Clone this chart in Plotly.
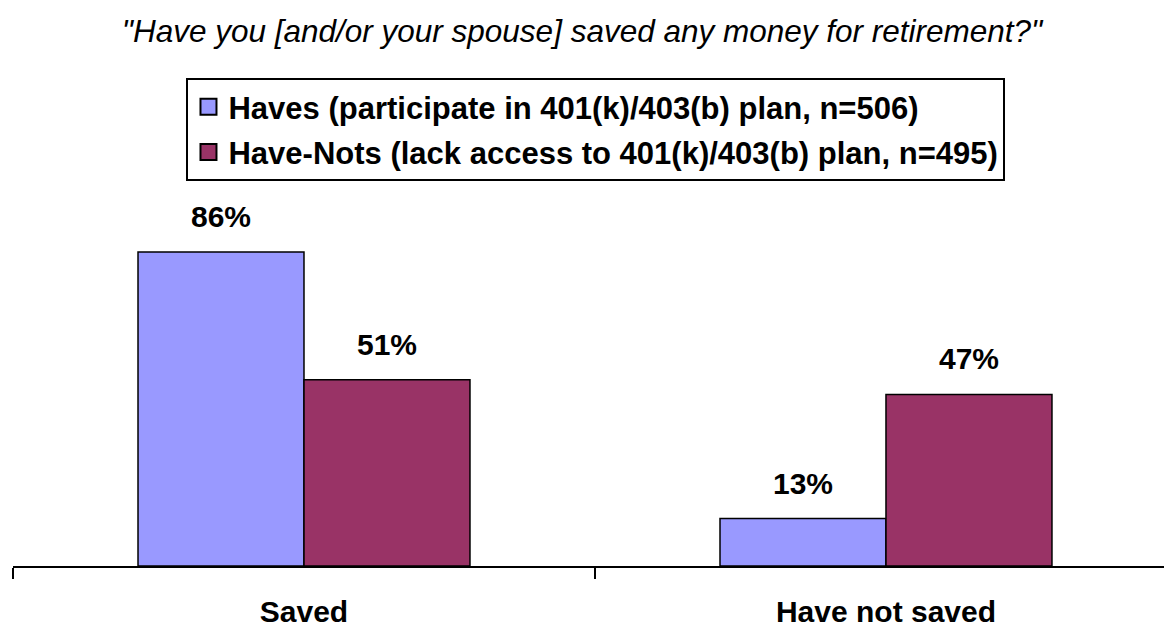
import plotly.graph_objects as go

# Survey responses, percent of each group
categories = ["Saved", "Have not saved"]
haves = [86, 13]
have_nots = [51, 47]
series_names = [
    "Haves (participate in 401(k)/403(b) plan, n=506)",
    "Have-Nots (lack access to 401(k)/403(b) plan, n=495)",
]
question = '"Have you [and/or your spouse] saved any money for retirement?"'

FONT = "Arial, Liberation Sans, Helvetica, sans-serif"
colors = ["#9999FF", "#993366"]

fig = go.Figure()
for i, (name, vals, col) in enumerate(zip(series_names, [haves, have_nots], colors)):
    fig.add_trace(go.Bar(
        x=categories, y=vals, name=name, legendgroup=f"g{i}", showlegend=False,
        marker=dict(color=col, line=dict(color="black", width=1.5)),
        hoverinfo="skip",
    ))
    # legend entry with a larger square swatch
    fig.add_trace(go.Scatter(
        x=[None], y=[None], mode="markers", name=name, legendgroup=f"g{i}",
        marker=dict(symbol="square", size=20, color=col, line=dict(color="black", width=2)),
        hoverinfo="skip",
    ))

# Value labels above each bar
half_bar_px = 83
for shift, vals in zip([-half_bar_px, half_bar_px], [haves, have_nots]):
    for cat, v in zip(categories, vals):
        fig.add_annotation(
            x=cat, y=v, text=f"{v}%", showarrow=False,
            xshift=shift, yshift=17, yanchor="bottom",
            font=dict(family=FONT, size=30, color="black", weight="bold"),
        )

fig.update_layout(
    width=1164, height=627,
    margin=dict(l=13, r=0, t=201, b=61),
    paper_bgcolor="white", plot_bgcolor="white",
    barmode="group", bargap=0.4296, bargroupgap=0,
    title=dict(
        text=question, x=0.5, xanchor="center", y=1 - 31 / 627, yanchor="middle",
        font=dict(family=FONT, size=31.5, color="black", style="italic"),
    ),
    legend=dict(
        x=0.5065, xanchor="center", y=1.337, yanchor="top",
        bordercolor="black", borderwidth=2, bgcolor="white",
        font=dict(family=FONT, size=31, color="black", weight="bold"),
        traceorder="grouped", tracegroupgap=2,
    ),
    showlegend=True,
)
fig.update_xaxes(
    type="category", range=[-0.5, 1.4777],
    showline=True, linecolor="black", linewidth=2,
    ticks="outside", tickson="boundaries", ticklen=11, tickwidth=2, tickcolor="black",
    ticklabelstandoff=18,
    tickfont=dict(family=FONT, size=30, color="black", weight="bold"),
    showgrid=False, zeroline=False,
)
fig.update_yaxes(range=[0, 100], visible=False)

fig.write_html("out.html")
